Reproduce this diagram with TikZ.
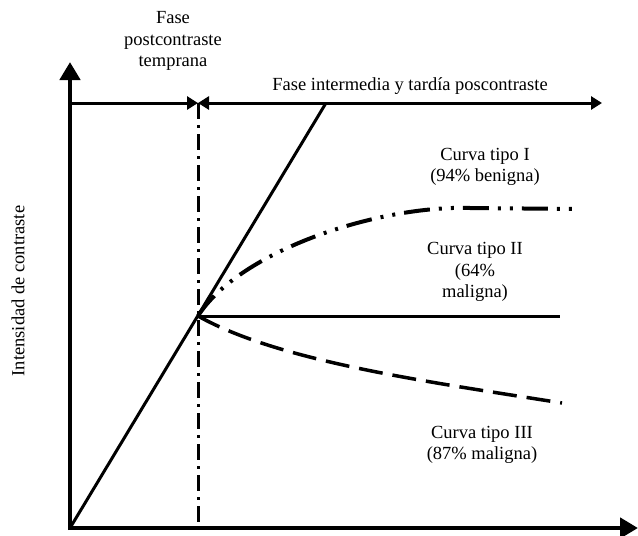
\documentclass[tikz,border=0pt]{standalone}
\usepackage{fontspec}
\setmainfont{Liberation Serif}
\usetikzlibrary{arrows.meta}
\begin{document}
\begin{tikzpicture}[x=1pt,y=-1pt,
  axis/.style={line width=4.5pt,-{Triangle[length=18pt,width=20pt]}},
  phase/.style={line width=3pt},
  rtip/.style={-{Triangle[length=11pt,width=13pt]}},
  btip/.style={{Triangle[length=11pt,width=13pt]}-{Triangle[length=11pt,width=13pt]}},
  guide/.style={line width=3pt,dash pattern=on 16pt off 6pt on 3pt off 6pt},
  curveone/.style={line width=4pt,dash pattern=on 26pt off 9pt on 3pt off 9pt on 3pt off 9pt},
  curvetwo/.style={line width=3pt},
  curvethree/.style={line width=3.5pt,dash pattern=on 24pt off 10pt},
  lbl/.style={font=\fontsize{18.5}{21.5}\selectfont,align=center,inner sep=0pt}]
\useasboundingbox (0,0) rectangle (638,536);
% key points
\coordinate (O) at (70,528);
\coordinate (Ytop) at (70,62);
\coordinate (Xend) at (638,528);
\coordinate (TL) at (70,103);
\coordinate (TM) at (198,103);
\coordinate (TR) at (602,103);
\coordinate (Vb) at (198,528);
\coordinate (J) at (198,316);
\coordinate (Dtop) at (326,103);
\coordinate (C1a) at (470,208);
\coordinate (C1b) at (578,209);
\coordinate (C2) at (560,316);
\coordinate (C3) at (562,403);
% guide line
\draw[guide] (TM) -- (Vb);
% axes
\draw[axis] (70,530) -- (Ytop);
\draw[axis] (68,528) -- (Xend);
% phase arrows
\draw[phase,rtip] (TL) -- (TM);
\draw[phase,btip] (TM) -- (TR);
% diagonal
\draw[line width=3pt] (O) -- (Dtop);
% curves
\draw[curveone] (J) .. controls (240,250) and (380,205) .. (C1a) -- (C1b);
\draw[curvetwo] (J) -- (C2);
\draw[curvethree] (J) .. controls (280,362) and (430,382) .. (C3);
% labels
\node[lbl] (t1) at (173,41) {Fase\\postcontraste\\temprana};
\node[lbl,anchor=base] (t2) at (410,90) {Fase intermedia y tardía poscontraste};
\node[lbl] (t3) at (485,167) {Curva tipo I\\(94\% benigna)};
\node[lbl] (t4) at (475,272) {Curva tipo II\\(64\%\\maligna)};
\node[lbl] (t5) at (482,445) {Curva tipo III\\(87\% maligna)};
\node[lbl,rotate=90] (t6) at (18,291) {Intensidad de contraste};
\end{tikzpicture}
\end{document}
